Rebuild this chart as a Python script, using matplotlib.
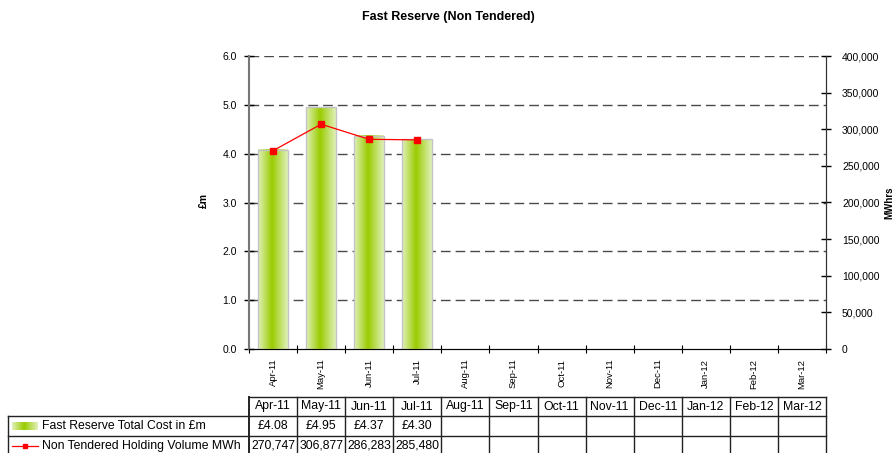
import matplotlib
matplotlib.use("Agg")
import matplotlib.pyplot as plt
import matplotlib.transforms as mtransforms
from matplotlib.colors import LinearSegmentedColormap
from matplotlib.ticker import FuncFormatter, MultipleLocator
import numpy as np

plt.rcParams['font.family'] = ['Liberation Sans', 'DejaVu Sans']

months = ['Apr-11', 'May-11', 'Jun-11', 'Jul-11', 'Aug-11', 'Sep-11',
          'Oct-11', 'Nov-11', 'Dec-11', 'Jan-12', 'Feb-12', 'Mar-12']
cost = [4.08, 4.95, 4.37, 4.30]
volume = [270747, 306877, 286283, 285480]
cost_labels = ['£4.08', '£4.95', '£4.37', '£4.30']
volume_labels = ['270,747', '306,877', '286,283', '285,480']
series_names = ['Fast Reserve Total Cost in £m', 'Non Tendered Holding Volume MWh']

W, H = 895, 453
fig = plt.figure(figsize=(W / 100, H / 100), dpi=100)
L, R, T, B = 249, 826, 56, 349
ax = fig.add_axes([L / W, 1 - B / H, (R - L) / W, (B - T) / H])

x = np.arange(len(months))
xc = x[:len(cost)]

grad_cmap = LinearSegmentedColormap.from_list(
    'g', [(0, '#e2f1bc'), (0.47, '#99cc00'), (1, '#e2f1bc')])
gradient = np.linspace(0, 1, 256).reshape(1, -1)

bars = ax.bar(xc, cost, width=0.62, facecolor='none', edgecolor='#c4c4c4',
              linewidth=1.0, zorder=4)
for b in bars:
    x0, y0 = b.get_x(), b.get_y()
    ax.imshow(gradient, cmap=grad_cmap, aspect='auto', zorder=3,
              extent=[x0, x0 + b.get_width(), y0, y0 + b.get_height()],
              interpolation='bilinear')

ax.set_xlim(-0.5, len(months) - 0.5)
ax.set_ylim(0, 6)
ax.yaxis.set_major_locator(MultipleLocator(1))
ax.yaxis.set_major_formatter(FuncFormatter(lambda v, p: f'{v:.1f}'))
for yv in np.arange(1, 7):
    ax.axhline(yv, color='#4a4a4a', lw=1.0, ls=(0, (7, 3.6)), zorder=1)

ax.set_xticks(x)
ax.set_xticklabels(months, rotation=90, fontsize=6.8)
ax.tick_params(axis='x', which='major', length=0, pad=7)
ax.set_xticks(np.arange(-0.5, len(months)), minor=True)
ax.tick_params(axis='x', which='minor', direction='inout', length=6, width=0.8)
ax.tick_params(axis='y', direction='inout', length=7, width=1.0, labelsize=7.5, pad=5)

ax.spines['top'].set_visible(False)
ax.spines['left'].set_color('#777777')
ax.spines['left'].set_linewidth(1.5)
ax.spines['bottom'].set_color('#444444')
ax.spines['right'].set_color('#333333')

ax2 = ax.twinx()
ax2.set_ylim(0, 400000)
ax2.yaxis.set_major_locator(MultipleLocator(50000))
ax2.yaxis.set_major_formatter(FuncFormatter(lambda v, p: f'{int(v):,}'))
ax2.tick_params(axis='y', direction='inout', length=7, width=1.0, labelsize=7.5, pad=8)
ax2.spines['top'].set_visible(False)
ax2.spines['left'].set_visible(False)
ax2.spines['right'].set_color('#333333')
ax2.plot(xc, volume, color='#ff0000', lw=0.9, marker='s', markersize=3.8,
         markeredgecolor='#ff0000', zorder=5)

fig.text(448 / W, 1 - 17 / H, 'Fast Reserve (Non Tendered)', ha='center',
         va='center', fontsize=9, fontweight='bold')
fig.text(204 / W, 1 - 200 / H, '£m', rotation=90, ha='center', va='center',
         fontsize=7.5, fontweight='bold')
fig.text(889 / W, 1 - 203 / H, 'MWhrs', rotation=90, ha='center', va='center',
         fontsize=7, fontweight='bold')

# data table
tr = mtransforms.blended_transform_factory(ax.transData, fig.transFigure)
def fy(py):
    return 1 - py / H
def fx(px):
    return px / W

rows_y = [397, 416, 436, 456]
lc = '#222222'
xl, xr = -0.5, len(months) - 0.5
ax.plot([xl, xr], [fy(rows_y[0])] * 2, transform=tr, color=lc, lw=1.0, clip_on=False)
for ry in rows_y[1:]:
    ax.plot([xl, xr], [fy(ry)] * 2, transform=tr, color=lc, lw=1.0, clip_on=False)
    fig.add_artist(plt.Line2D([fx(8), fx(L)], [fy(ry)] * 2, color=lc, lw=1.0))
for bx in np.arange(-0.5, len(months)):
    ax.plot([bx, bx], [fy(rows_y[0]), fy(rows_y[-1])], transform=tr, color=lc,
            lw=1.4 if bx == -0.5 else 1.0, clip_on=False)
fig.add_artist(plt.Line2D([fx(8), fx(8)], [fy(rows_y[1]), fy(rows_y[-1])], color=lc, lw=1.0))

def cy(i):
    return fy((rows_y[i] + rows_y[i + 1]) / 2)

tfs = 8.8
for i, m in enumerate(months):
    ax.text(i, cy(0), m, transform=tr, ha='center', va='center', fontsize=tfs)
for i, s in enumerate(cost_labels):
    ax.text(i, cy(1), s, transform=tr, ha='center', va='center', fontsize=tfs)
for i, s in enumerate(volume_labels):
    ax.text(i, cy(2), s, transform=tr, ha='center', va='center', fontsize=tfs)

lax = fig.add_axes([fx(12), fy(430), fx(38) - fx(12), fy(422) - fy(430)])
lax.imshow(np.linspace(0, 1, 256).reshape(1, -1), cmap=grad_cmap, aspect='auto')
lax.set_axis_off()
fig.text(fx(42), cy(1), series_names[0], ha='left', va='center', fontsize=tfs)
fig.add_artist(plt.Line2D([fx(12), fx(38)], [cy(2)] * 2, color='#ff0000', lw=0.9))
fig.add_artist(plt.Line2D([fx(25)], [cy(2)], color='#ff0000', marker='s', markersize=3.5))
fig.text(fx(42), cy(2), series_names[1], ha='left', va='center', fontsize=tfs)

fig.savefig('out.png', dpi=100)
